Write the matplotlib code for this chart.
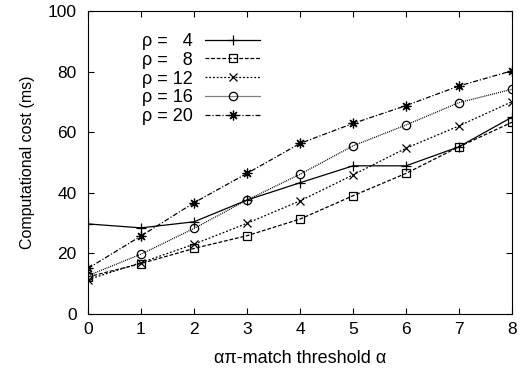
import matplotlib
matplotlib.use('Agg')
import matplotlib.pyplot as plt

plt.rcParams['font.family'] = ['Liberation Sans', 'DejaVu Sans']

alpha = [0, 1, 2, 3, 4, 5, 6, 7, 8]
rho4 = [29.7, 28.4, 30.4, 37.6, 43.3, 48.9, 48.9, 55.2, 65.0]
rho8 = [12.2, 16.6, 21.6, 25.8, 31.3, 39.0, 46.4, 55.2, 63.3]
rho12 = [11.3, 16.9, 23.0, 29.9, 37.3, 45.9, 54.7, 62.1, 70.1]
rho16 = [12.6, 19.7, 28.2, 37.6, 46.1, 55.5, 62.4, 69.8, 74.2]
rho20 = [15.0, 25.7, 36.7, 46.4, 56.3, 62.9, 68.8, 75.3, 80.3]
labels = ['\u03c1 =   4', '\u03c1 =   8', '\u03c1 = 12', '\u03c1 = 16', '\u03c1 = 20']

fig = plt.figure(figsize=(5.3, 3.74), dpi=100)
ax = fig.add_axes([0.166, 0.161, 0.800, 0.809])

lw = 0.9
ax.plot(alpha, rho4, color='black', lw=lw, ls='-', marker='+', ms=7, mew=0.9, label=labels[0])
ax.plot(alpha, rho8, color='black', lw=lw, ls=(0, (3, 1.5)), marker='s', ms=6, mfc='none', mew=0.9, label=labels[1])
ax.plot(alpha, rho12, color='black', lw=lw, ls=(0, (1.5, 1.5)), marker='x', ms=6, mew=0.9, label=labels[2])
ax.plot(alpha, rho16, color='black', lw=lw, ls=(0, (0.8, 0.8)), marker='o', ms=6, mfc='none', mew=0.9, label=labels[3])
ax.plot(alpha, rho20, color='black', lw=lw, ls=(0, (4, 1.5, 1, 1.5)), marker=(8, 2, 0), ms=7, mew=0.9, label=labels[4])

ax.set_xlim(0, 8)
ax.set_ylim(0, 100)
ax.set_xticks(range(0, 9))
ax.set_yticks(range(0, 101, 20))
ax.tick_params(direction='in', top=True, right=True, length=4, labelsize=12.5)
ax.tick_params(axis='x', pad=6)
ax.tick_params(axis='y', pad=8)
ax.set_xlabel('\u03b1\u03c0-match threshold \u03b1', fontsize=13, labelpad=9)
ax.set_ylabel('Computational cost (ms)', fontsize=11.5, labelpad=9)

leg = ax.legend(loc='upper left', bbox_to_anchor=(0.127, 0.928), frameon=False, markerfirst=False,
                fontsize=13, handlelength=3.05, labelspacing=0.1, handletextpad=0.7,
                borderaxespad=0, borderpad=0)

plt.savefig('out.png', dpi=100)
